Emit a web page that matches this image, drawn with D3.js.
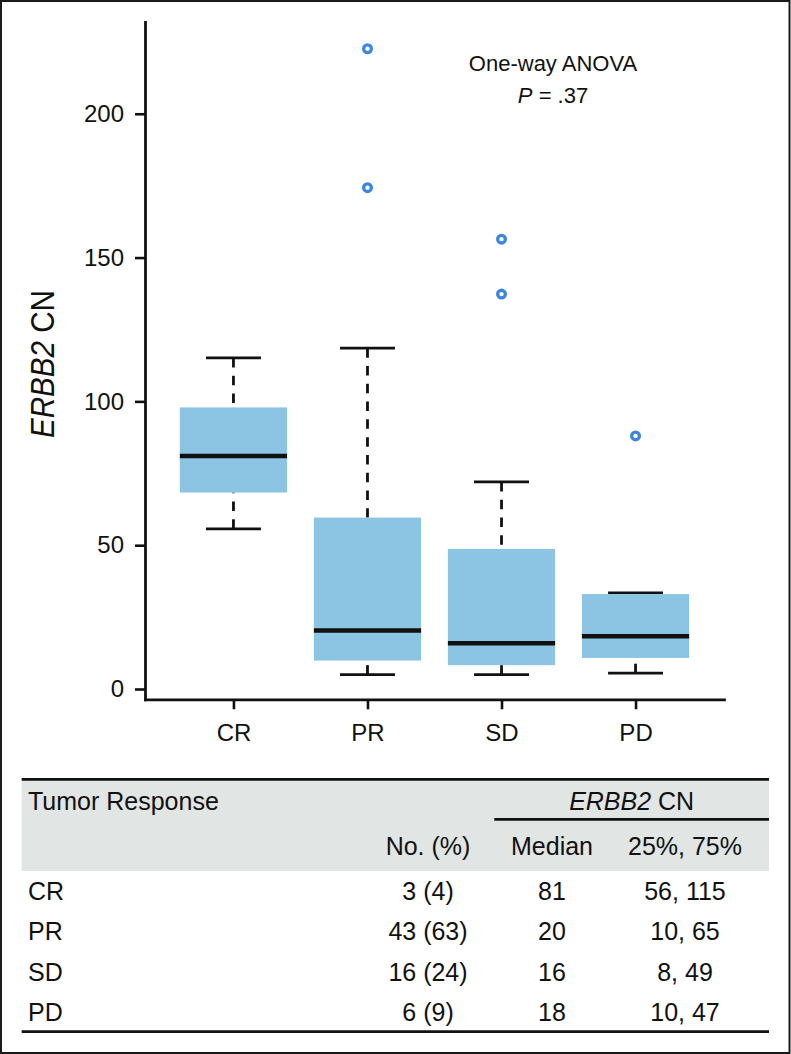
<!DOCTYPE html>
<html>
<head>
<meta charset="utf-8">
<script src="https://cdn.jsdelivr.net/npm/d3@7/dist/d3.min.js"></script>
<style>
  html, body { margin: 0; padding: 0; background: #fff; }
  svg { display: block; }
  text { font-family: "Liberation Sans", Arial, Helvetica, sans-serif; fill: #111; }
</style>
</head>
<body>
<div id="chart"></div>
<script>
// ---------- data ----------
const categories   = ["CR", "PR", "SD", "PD"];
const whiskerLow   = [55.7, 5.0, 5.0, 5.5];
const quartile1    = [68.3, 9.9, 8.3, 10.8];
const medians      = [81.0, 20.3, 15.9, 18.3];
const quartile3    = [97.9, 59.6, 48.7, 33.0];
const whiskerHigh  = [115.1, 118.5, 72.0, 33.4];
const outliers     = [[], [174.3, 222.6], [137.3, 156.4], [88.0]];
const yTicks       = [0, 50, 100, 150, 200];

const tableRows    = ["CR", "PR", "SD", "PD"];
const tableN       = ["3 (4)", "43 (63)", "16 (24)", "6 (9)"];
const tableMedian  = ["81", "20", "16", "18"];
const tableIQR     = ["56, 115", "10, 65", "8, 49", "10, 47"];

// ---------- layout ----------
const W = 791, H = 1054;
const svg = d3.select("#chart").append("svg").attr("width", W).attr("height", H);

// outer frame
svg.append("rect").attr("x", 1).attr("y", 1).attr("width", 788.5).attr("height", 1052)
  .attr("fill", "none").attr("stroke", "#1a1a1a").attr("stroke-width", 2);

const x = d3.scaleLinear().domain([0.34, 4.66]).range([145, 724]);
const y = d3.scaleLinear().domain([-3.58, 231.9]).range([699.3, 22]);

const boxW = x(0.8) - x(0);
const capW = x(0.41) - x(0);

// axes
const yAxis = svg.append("g").attr("transform", `translate(${x.range()[0]},0)`)
  .call(d3.axisLeft(y).tickValues(yTicks).tickSize(10).tickSizeOuter(0).tickPadding(11));
const xAxis = svg.append("g").attr("transform", `translate(0,${y.range()[0]})`)
  .call(d3.axisBottom(x).tickValues(categories.map((c, i) => i + 1))
        .tickFormat(i => categories[i - 1]).tickSize(10).tickSizeOuter(0).tickPadding(14.5));
[yAxis, xAxis].forEach(a => {
  a.select(".domain").attr("stroke", "#111").attr("stroke-width", 2.8).attr("stroke-linecap", "square");
  a.selectAll(".tick line").attr("stroke", "#111").attr("stroke-width", 2.6);
  a.selectAll(".tick text").attr("font-size", 24).attr("fill", "#111")
    .attr("font-family", "'Liberation Sans', Arial, sans-serif");
});

// y label
const yl = svg.append("text")
  .attr("transform", `translate(53.5,364) rotate(-90)`)
  .attr("text-anchor", "middle").attr("font-size", 33.5)
  .attr("textLength", 148).attr("lengthAdjust", "spacingAndGlyphs");
yl.append("tspan").attr("font-style", "italic").text("ERBB2");
yl.append("tspan").text(" CN");

// boxes
const g = svg.append("g");
categories.forEach((c, i) => {
  const cx = x(i + 1);
  // whiskers (drawn from whisker end toward the box, dashed)
  g.append("line").attr("x1", cx).attr("x2", cx).attr("y1", y(whiskerHigh[i])).attr("y2", y(quartile3[i]))
    .attr("stroke", "#111").attr("stroke-width", 2.8).attr("stroke-dasharray", "9.5 8.3");
  g.append("line").attr("x1", cx).attr("x2", cx).attr("y1", y(whiskerLow[i])).attr("y2", y(quartile1[i]))
    .attr("stroke", "#111").attr("stroke-width", 2.8).attr("stroke-dasharray", "9.5 8.3");
  // caps
  [whiskerHigh[i], whiskerLow[i]].forEach(v => {
    g.append("line").attr("x1", cx - capW / 2).attr("x2", cx + capW / 2).attr("y1", y(v)).attr("y2", y(v))
      .attr("stroke", "#111").attr("stroke-width", 2.7);
  });
  // box
  g.append("rect").attr("x", cx - boxW / 2).attr("width", boxW)
    .attr("y", y(quartile3[i])).attr("height", y(quartile1[i]) - y(quartile3[i]))
    .attr("fill", "#8cc4e4");
  // median
  g.append("line").attr("x1", cx - boxW / 2).attr("x2", cx + boxW / 2)
    .attr("y1", y(medians[i])).attr("y2", y(medians[i]))
    .attr("stroke", "#111").attr("stroke-width", 4.5);
  // outliers
  outliers[i].forEach(v => {
    g.append("circle").attr("cx", cx).attr("cy", y(v)).attr("r", 3.85)
      .attr("fill", "#fff").attr("stroke", "#3b87e0").attr("stroke-width", 3.3);
  });
});

// annotation
svg.append("text").attr("x", 553).attr("y", 71).attr("text-anchor", "middle")
  .attr("font-size", 22).text("One-way ANOVA");
const pt = svg.append("text").attr("x", 553).attr("y", 103).attr("text-anchor", "middle").attr("font-size", 22);
pt.append("tspan").attr("font-style", "italic").text("P");
pt.append("tspan").text(" = .37");

// ---------- table ----------
const tL = 21.7, tR = 769;
const colN = 428, colMed = 552, colIQR = 685;
const fs = 25;
const t = svg.append("g");
t.append("rect").attr("x", tL).attr("y", 779.3).attr("width", tR - tL).attr("height", 871 - 779.3).attr("fill", "#e1e5e3");
t.append("line").attr("x1", tL).attr("x2", tR).attr("y1", 779.3).attr("y2", 779.3).attr("stroke", "#111").attr("stroke-width", 2.7);
t.append("line").attr("x1", 494.3).attr("x2", tR).attr("y1", 819.3).attr("y2", 819.3).attr("stroke", "#111").attr("stroke-width", 2.7);
t.append("line").attr("x1", tL).attr("x2", tR).attr("y1", 1031.7).attr("y2", 1031.7).attr("stroke", "#111").attr("stroke-width", 2.8);

t.append("text").attr("x", 28).attr("y", 810).attr("font-size", fs).text("Tumor Response");
const eh = t.append("text").attr("x", (494.3 + tR) / 2).attr("y", 809.5).attr("text-anchor", "middle").attr("font-size", fs);
eh.append("tspan").attr("font-style", "italic").text("ERBB2");
eh.append("tspan").text(" CN");
t.append("text").attr("x", colN).attr("y", 855).attr("text-anchor", "middle").attr("font-size", fs).text("No. (%)");
t.append("text").attr("x", colMed).attr("y", 855).attr("text-anchor", "middle").attr("font-size", fs).text("Median");
t.append("text").attr("x", colIQR).attr("y", 855).attr("text-anchor", "middle").attr("font-size", fs).text("25%, 75%");

const rowY = d3.scalePoint().domain(tableRows).range([900, 1021]);
tableRows.forEach((r, i) => {
  const yy = rowY(r);
  t.append("text").attr("x", 28).attr("y", yy).attr("font-size", fs).text(r);
  t.append("text").attr("x", colN).attr("y", yy).attr("text-anchor", "middle").attr("font-size", fs).text(tableN[i]);
  t.append("text").attr("x", colMed).attr("y", yy).attr("text-anchor", "middle").attr("font-size", fs).text(tableMedian[i]);
  t.append("text").attr("x", colIQR).attr("y", yy).attr("text-anchor", "middle").attr("font-size", fs).text(tableIQR[i]);
});
</script>
</body>
</html>
